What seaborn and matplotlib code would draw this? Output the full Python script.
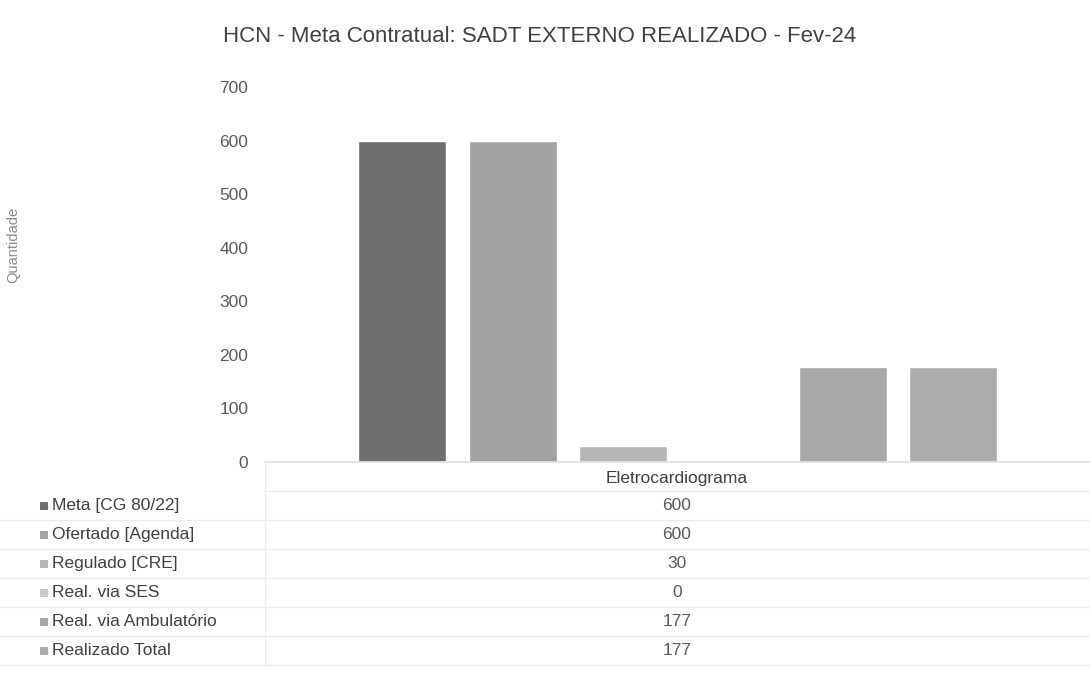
import pandas as pd
import matplotlib.pyplot as plt
import seaborn as sns

titulo = "HCN - Meta Contratual: SADT EXTERNO REALIZADO - Fev-24"
categoria = "Eletrocardiograma"
series = ["Meta [CG 80/22]", "Ofertado [Agenda]", "Regulado [CRE]",
          "Real. via SES", "Real. via Ambulatório", "Realizado Total"]
valores = [600, 600, 30, 0, 177, 177]
cores = ["#6f6f6f", "#a2a2a2", "#b6b6b6", "#c9c9c9", "#a8a8a8", "#acacac"]
yticks = [0, 100, 200, 300, 400, 500, 600, 700]

df = pd.DataFrame({"exame": [categoria] * len(series), "serie": series, "qtd": valores})

sns.set_theme(style="white")
plt.rcParams["font.family"] = ["Liberation Sans", "DejaVu Sans"]

W, H = 1090, 679
fig = plt.figure(figsize=(W / 100, H / 100), dpi=100)

# bar area
ax = fig.add_axes([265 / W, 1 - 462 / H, 825 / W, 375 / H])
sns.barplot(data=df, x="exame", y="qtd", hue="serie", palette=cores,
            gap=0.2, saturation=1, legend=False, ax=ax)
ax.set_ylim(0, 700)
ax.set_yticks(yticks)
ax.set_xticks([])
ax.set_xlabel("")
ax.set_ylabel("")
ax.tick_params(axis="y", length=0, labelsize=12.5, labelcolor="#595959", pad=12)
for s in ["top", "right", "left"]:
    ax.spines[s].set_visible(False)
ax.spines["bottom"].set_color("#e0e0e0")

fig.text(540 / W, 1 - 36 / H, titulo, ha="center", va="center",
         fontsize=16, color="#404040")
fig.text(13 / W, 1 - 245 / H, "Quantidade", rotation=90, ha="center",
         va="center", fontsize=10.5, color="#8c8c8c")

# data table under the chart, drawn in pixel coordinates
tab = fig.add_axes([0, 0, 1, 1], zorder=-1)
tab.set_xlim(0, W)
tab.set_ylim(H, 0)
tab.axis("off")

top = 462
rh = 29
linha = "#ececec"
tab.plot([265, 265], [top, top + rh * 7], color=linha, lw=1)
tab.plot([265, W], [top + rh, top + rh], color=linha, lw=1)
for i in range(1, 7):
    tab.plot([0, W], [top + rh * (i + 1), top + rh * (i + 1)], color=linha, lw=1)

tab.text(677, top + rh / 2 + 2, categoria, ha="center", va="center",
         fontsize=12.5, color="#404040")
for i, (nome, v, c) in enumerate(zip(series, valores, cores)):
    yc = top + rh * (i + 1) + rh / 2
    tab.scatter([44], [yc], marker="s", s=30, color=c, linewidths=0)
    tab.text(52, yc, nome, ha="left", va="center", fontsize=12.5, color="#404040")
    tab.text(677, yc, str(v), ha="center", va="center", fontsize=12.5, color="#595959")

fig.savefig("out.png", dpi=100)
